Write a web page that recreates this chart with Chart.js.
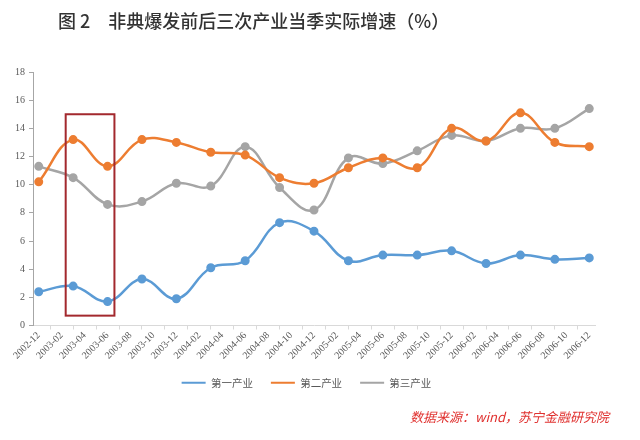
<!DOCTYPE html>
<html>
<head>
<meta charset="utf-8">
<script src="https://cdn.jsdelivr.net/npm/chart.js@4.4.1/dist/chart.umd.min.js"></script>
<style>
body { margin: 0; background: #fff; }
#wrap { position: relative; width: 640px; height: 440px; }
#title { position: absolute; left: 58px; top: 7px; font: 500 18px "Noto Sans CJK SC"; color: #333; white-space: pre; }
#source { position: absolute; left: 410px; top: 407px; font: italic 13px "Noto Sans CJK SC"; color: #e0312f; white-space: pre; }
canvas { position: absolute; left: 0; top: 0; }
</style>
</head>
<body>
<div id="wrap">
  <canvas id="chart01" width="640" height="440"></canvas>
  <div id="title">图 2　非典爆发前后三次产业当季实际增速（%）</div>
  <div id="source">数据来源：wind，苏宁金融研究院</div>
</div>
<script>
// quarterly points
const quarters = ['2002-12', '2003-03', '2003-06', '2003-09', '2003-12', '2004-03', '2004-06', '2004-09', '2004-12',
    '2005-03', '2005-06', '2005-09', '2005-12', '2006-03', '2006-06', '2006-09', '2006-12'];
const primary = [2.4, 2.8, 1.7, 3.3, 1.9, 4.1, 4.6, 7.3, 6.7, 4.6, 5.0, 5.0, 5.3, 4.4, 5.0, 4.7, 4.8];
const secondary = [10.2, 13.2, 11.3, 13.2, 13.0, 12.3, 12.1, 10.5, 10.1, 11.2, 11.9, 11.2, 14.0, 13.1, 15.1, 13.0, 12.7];
const tertiary = [11.3, 10.5, 8.6, 8.8, 10.1, 9.9, 12.7, 9.8, 8.2, 11.9, 11.5, 12.4, 13.5, 13.1, 14.0, 14.0, 15.4];
const seriesNames = ['第一产业', '第二产业', '第三产业'];

// monthly axis, a label every 2 months
const months = [];
for (let y = 2002, m = 12; y < 2007; m++) {
    if (m > 12) { m = 1; y++; }
    if (y === 2007) break;
    months.push(`${y}-${String(m).padStart(2, '0')}`);
    if (y === 2006 && m === 12) break;
}
const yMin = 0, yMax = 18, yStep = 2;

// red box around the SARS period (axis units: month index / percent)
const sarsBox = { from: 2.35, to: 6.6, low: 0.7, high: 15.0 };

const colors = ['#5b9bd5', '#ed7d31', '#a5a5a5'];
const tickFont = { family: 'Liberation Serif', size: 10 };

function mkSet(i, values) {
    return {
        label: seriesNames[i],
        data: values.map((v, k) => ({ x: quarters[k], y: v })),
        borderColor: colors[i],
        backgroundColor: colors[i],
        borderWidth: 2.5,
        pointRadius: 3.5,
        pointHoverRadius: 3.5,
        pointBorderWidth: 2,
        tension: 0.4
    };
}

const boxPlugin = {
    id: 'sarsBox',
    afterLayout(chart) {
        // legend sits a bit right of the plot centre
        chart.legend.left += 9;
        chart.legend.right += 9;
    },
    afterDatasetsDraw(chart) {
        const { ctx, scales: { x, y } } = chart;
        const l = x.getPixelForValue(sarsBox.from);
        const r = x.getPixelForValue(sarsBox.to);
        const t = y.getPixelForValue(sarsBox.high);
        const b = y.getPixelForValue(sarsBox.low);
        ctx.save();
        ctx.strokeStyle = '#a3292e';
        ctx.lineWidth = 2;
        ctx.strokeRect(l, t, r - l, b - t);
        ctx.restore();
    }
};

const mainChart = new Chart(document.getElementById('chart01'), {
    type: 'line',
    data: {
        labels: months,
        datasets: [mkSet(0, primary), mkSet(1, secondary), mkSet(2, tertiary)]
    },
    options: {
        responsive: false,
        animation: false,
        layout: { padding: { left: 0, top: 72, right: 45, bottom: 42 } },
        plugins: {
            title: { display: false },
            tooltip: { enabled: false },
            legend: {
                position: 'bottom',
                labels: {
                    usePointStyle: true,
                    pointStyle: 'line',
                    pointStyleWidth: 24,
                    boxHeight: 10,
                    padding: 18,
                    color: '#595959',
                    font: { family: 'Noto Sans CJK SC', size: 10.5 }
                }
            }
        },
        scales: {
            x: {
                type: 'category',
                offset: true,
                afterFit: (s) => { s.height = 34; },
                grid: { offset: true, drawOnChartArea: false, drawTicks: true, tickLength: 4, color: '#d9d9d9' },
                border: { color: '#d9d9d9', width: 1 },
                ticks: {
                    autoSkip: false,
                    maxRotation: 45,
                    minRotation: 45,
                    padding: 0,
                    color: '#595959',
                    font: { family: 'Liberation Serif', size: 10 },
                    callback: (v, i) => (i % 2 === 0 ? months[i] : null)
                }
            },
            y: {
                min: yMin,
                max: yMax,
                afterFit: (s) => { s.width = 33; },
                grid: { drawOnChartArea: false, drawTicks: true, tickLength: 4, color: '#a6a6a6' },
                border: { color: '#a6a6a6', width: 1 },
                ticks: { stepSize: yStep, padding: 4, color: '#595959', font: tickFont }
            }
        }
    },
    plugins: [boxPlugin]
});
</script>
</body>
</html>
